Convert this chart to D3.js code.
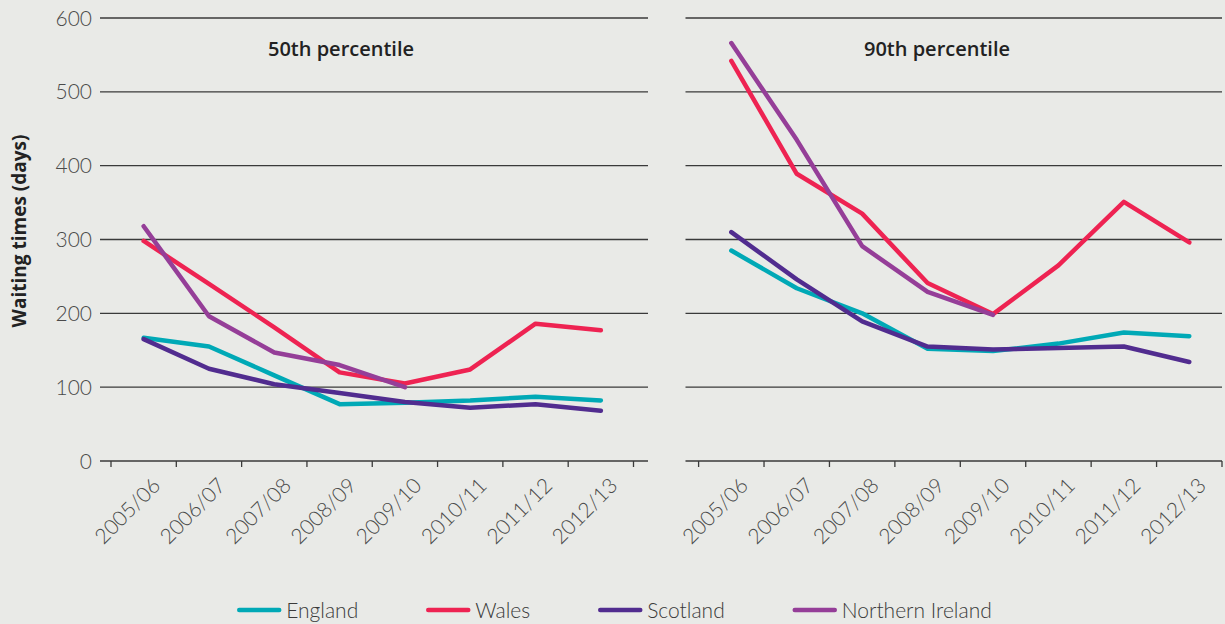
<!DOCTYPE html>
<html><head><meta charset="utf-8">
<script src="https://cdn.jsdelivr.net/npm/d3@7"></script>
<style>
html,body{margin:0;padding:0;background:#e9eae7;}
svg{display:block;font-family:Lato,"Open Sans",sans-serif;}
</style></head><body>
<svg id="chart" width="1225" height="624"></svg>
<script>
// ---- data ----
const years = ["2005/06","2006/07","2007/08","2008/09","2009/10","2010/11","2011/12","2012/13"];
const yTicks = [0,100,200,300,400,500,600];
const seriesNames = ["England","Wales","Scotland","Northern Ireland"];
const panelTitles = ["50th percentile","90th percentile"];
const england50  = [167,155,116,77,79,82,87,82];
const wales50    = [298,240,181,120,105,124,186,177];
const scotland50 = [165,125,104,92,80,72,77,68];
const ni50       = [318,196,147,130,100,null,null,null];
const england90  = [285,234,200,152,149,159,174,169];
const wales90    = [542,389,335,241,199,265,351,296];
const scotland90 = [310,246,189,155,151,153,155,134];
const ni90       = [566,435,291,229,198,null,null,null];
const yTitle = "Waiting times (days)";

// ---- styling / layout ----
const colors = ["#00a9b6","#ee2352","#512c8f","#953e98"];
const panels = [
  {gx0:100, gx1:648, bx0:111, bx1:633.5, titleX:341, series:[england50,wales50,scotland50,ni50]},
  {gx0:685.5, gx1:1222, bx0:698.6, bx1:1222, titleX:937, series:[england90,wales90,scotland90,ni90]}
];
const svg = d3.select("#chart");
const y = d3.scaleLinear().domain([0,600]).range([461,18]);
const labelFont = 21;

panels.forEach((p,pi)=>{
  const g = svg.append("g");
  const x = d3.scaleBand().domain(years).range([p.bx0,p.bx1]).padding(0);
  // gridlines
  g.selectAll(".grid").data(yTicks).join("line")
    .attr("x1",p.gx0).attr("x2",p.gx1)
    .attr("y1",d=>y(d)).attr("y2",d=>y(d))
    .attr("stroke","#3a3a3a").attr("stroke-width",1.3);
  // y labels (left only)
  if(pi===0){
    g.selectAll(".yl").data(yTicks).join("text")
      .attr("x",92).attr("y",d=>y(d)).attr("dy","0.36em")
      .attr("text-anchor","end").attr("fill","#4a4a4a")
      .attr("font-size",labelFont).attr("font-weight",300)
      .text(d=>d);
  }
  // x ticks at band boundaries
  const bounds = d3.range(years.length+1).map(i=>p.bx0 + i*x.step());
  g.selectAll(".xt").data(bounds).join("line")
    .attr("x1",d=>d).attr("x2",d=>d).attr("y1",y(0)).attr("y2",y(0)+6)
    .attr("stroke","#3a3a3a").attr("stroke-width",1.3);
  // x labels
  g.selectAll(".xl").data(years).join("text")
    .attr("transform",d=>`translate(${x(d)+x.bandwidth()/2+18},${487}) rotate(-45)`)
    .attr("text-anchor","end").attr("fill","#4a4a4a")
    .attr("font-size",labelFont).attr("font-weight",300)
    .text(d=>d);
  // title
  g.append("text").attr("x",p.titleX).attr("y",56).attr("text-anchor","middle")
    .attr("font-family","'Open Sans',sans-serif")
    .attr("font-size",20).attr("font-weight",600).attr("fill","#222")
    .text(panelTitles[pi]);
  // lines
  const line = d3.line()
    .defined(d=>d.v!==null)
    .x(d=>x(d.k)+x.bandwidth()/2).y(d=>y(d.v));
  p.series.forEach((s,si)=>{
    g.append("path")
      .datum(years.map((k,i)=>({k,v:s[i]})))
      .attr("d",line).attr("fill","none")
      .attr("stroke",colors[si]).attr("stroke-width",4.5)
      .attr("stroke-linejoin","round").attr("stroke-linecap","round");
  });
});

// y title
svg.append("text").attr("transform","translate(26,231) rotate(-90)")
  .attr("text-anchor","middle")
  .attr("font-family","'Open Sans',sans-serif")
  .attr("font-size",19).attr("font-weight",700)
  .attr("fill","#222").text(yTitle);

// legend (centered)
const lg = svg.append("g");
let cx = 0;
seriesNames.forEach((n,i)=>{
  const it = lg.append("g");
  it.append("line").attr("x1",0).attr("x2",40).attr("y1",0).attr("y2",0)
    .attr("stroke",colors[i]).attr("stroke-width",4.5).attr("stroke-linecap","round");
  const t = it.append("text").attr("x",47).attr("dy","0.36em")
    .attr("font-size",labelFont).attr("font-weight",300).attr("fill","#3a3a3a").text(n);
  const w = 47 + t.node().getComputedTextLength();
  it.attr("transform",`translate(${cx},0)`);
  cx += w + 70;
});
const total = cx - 70;
lg.attr("transform",`translate(${(1225-total)/2+3},610)`);
</script>
</body></html>
